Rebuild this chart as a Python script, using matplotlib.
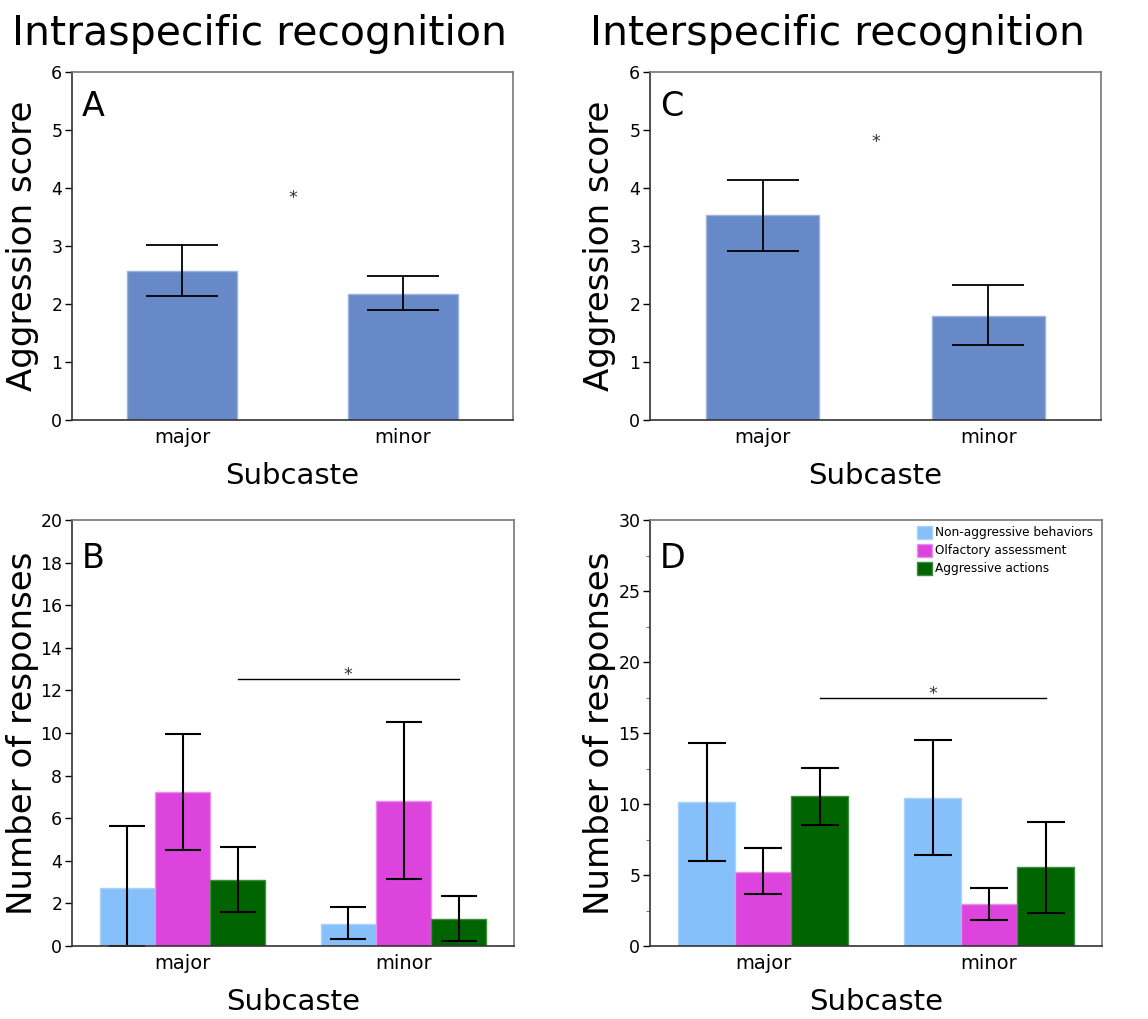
import numpy as np
import matplotlib
matplotlib.use("Agg")
import matplotlib.pyplot as plt
from matplotlib.ticker import MultipleLocator

# ---------------------------------
# data
# ---------------------------------
subcastes = ["major", "minor"]
behaviors = ["Non-aggressive behaviors", "Olfactory assessment", "Aggressive actions"]

# A: intraspecific aggression score
intra_score = [2.57, 2.18]
intra_low = [2.13, 1.89]
intra_high = [3.02, 2.48]

# C: interspecific aggression score
inter_score = [3.53, 1.80]
inter_low = [2.91, 1.29]
inter_high = [4.14, 2.33]

# B: intraspecific responses (rows = behavior, cols = subcaste)
intra_resp = [[2.71, 1.05], [7.21, 6.81], [3.11, 1.25]]
intra_resp_low = [[0.0, 0.31], [4.51, 3.15], [1.61, 0.22]]
intra_resp_high = [[5.62, 1.85], [9.95, 10.5], [4.63, 2.33]]

# D: interspecific responses
inter_resp = [[10.16, 10.40], [5.23, 2.93], [10.54, 5.54]]
inter_resp_low = [[6.01, 6.41], [3.64, 1.81], [8.52, 2.30]]
inter_resp_high = [[14.32, 14.48], [6.88, 4.11], [12.56, 8.76]]

score_color = "#6889C7"
behavior_colors = ["#86C0FA", "#DD44DD", "#006400"]
edge_colors = ["#A9D2FB", "#EC8EEC", "#3E8E3E"]

W, H = 1148, 1019
fig = plt.figure(figsize=(W / 100, H / 100), dpi=100)
plt.rcParams["font.family"] = ["DejaVu Sans"]


def px_axes(left, top, right, bottom):
    return fig.add_axes([left / W, 1 - bottom / H, (right - left) / W, (bottom - top) / H])


def style_axes(ax, ymax, step, label, letter, xlab_y):
    ax.set_xlim(-0.5, 1.5)
    ax.set_ylim(0, ymax)
    ax.yaxis.set_major_locator(MultipleLocator(step))
    ax.set_xticks(range(len(subcastes)))
    ax.set_xticklabels(subcastes, fontsize=14)
    ax.tick_params(axis="x", length=0, pad=6)
    ax.tick_params(axis="y", labelsize=12.5, length=5, width=1, pad=2)
    for side in ["left", "bottom"]:
        ax.spines[side].set_color("#333333")
        ax.spines[side].set_linewidth(1.2)
    for side in ["top", "right"]:
        ax.spines[side].set_color("#777777")
        ax.spines[side].set_linewidth(1.2)
    ax.set_ylabel(label, fontsize=24.5, va="center")
    ax.yaxis.set_label_coords(-0.112, 0.5)
    ax.set_xlabel("Subcaste", fontsize=21, va="top")
    ax.xaxis.set_label_coords(0.5, xlab_y)
    ax.text(0.022, 0.948, letter, transform=ax.transAxes, fontsize=24,
            ha="left", va="top")


def score_panel(ax, vals, low, high):
    x = np.arange(len(subcastes))
    vals = np.array(vals)
    yerr = [vals - np.array(low), np.array(high) - vals]
    ax.bar(x, vals, width=0.5, color=score_color, edgecolor="#9DB3DE", linewidth=1)
    ax.errorbar(x, vals, yerr=yerr, fmt="none", ecolor="black", elinewidth=1.3,
                capsize=26, capthick=1.3)


def resp_panel(ax, vals, low, high, capsize):
    x = np.arange(len(subcastes))
    for i, name in enumerate(behaviors):
        v = np.array(vals[i])
        xi = x + (i - 1) * 0.25
        ax.bar(xi, v, width=0.25, color=behavior_colors[i],
               edgecolor=edge_colors[i], linewidth=1, label=name)
        yerr = [v - np.array(low[i]), np.array(high[i]) - v]
        ax.errorbar(xi, v, yerr=yerr, fmt="none", ecolor="black", elinewidth=1.5,
                    capsize=capsize, capthick=1.5)


# ---------------------------------
# A
# ---------------------------------
axA = px_axes(72, 72, 513, 420)
score_panel(axA, intra_score, intra_low, intra_high)
style_axes(axA, 6, 1, "Aggression score", "A", -0.12)
axA.text(0.5, 3.74, "*", ha="center", va="baseline", fontsize=12.5, color="#333333")

# ---------------------------------
# C
# ---------------------------------
axC = px_axes(650, 72, 1101, 420)
score_panel(axC, inter_score, inter_low, inter_high)
style_axes(axC, 6, 1, "Aggression score", "C", -0.12)
axC.text(0.5, 4.71, "*", ha="center", va="baseline", fontsize=12.5, color="#333333")

# ---------------------------------
# B
# ---------------------------------
axB = px_axes(72, 520, 514, 946)
resp_panel(axB, intra_resp, intra_resp_low, intra_resp_high, 13)
style_axes(axB, 20, 2, "Number of responses", "B", -0.098)
axB.plot([0.25, 1.25], [12.54, 12.54], color="black", lw=1)
axB.text(0.75, 12.5, "*", ha="center", va="baseline", fontsize=12.5, color="#333333")

# ---------------------------------
# D
# ---------------------------------
axD = px_axes(650, 520, 1102, 946)
resp_panel(axD, inter_resp, inter_resp_low, inter_resp_high, 13.5)
style_axes(axD, 30, 5, "Number of responses", "D", -0.098)
axD.yaxis.set_minor_locator(MultipleLocator(2.5))
axD.tick_params(axis="y", which="minor", length=3, width=0.8, color="#777777")
axD.plot([0.25, 1.25], [17.44, 17.44], color="black", lw=1)
axD.text(0.75, 17.4, "*", ha="center", va="baseline", fontsize=12.5, color="#333333")
axD.legend(loc="upper left", bbox_to_anchor=(0.566, 1.012), frameon=False,
           fontsize=8.7, handlelength=1.3, handleheight=1.3, handletextpad=0.2,
           labelspacing=0.36, borderpad=0.4)

# ---------------------------------
# titles
# ---------------------------------
fig.text(12 / W, 1 - 45 / H, "Intraspecific recognition", fontsize=29.5,
         ha="left", va="baseline")
fig.text(590 / W, 1 - 45 / H, "Interspecific recognition", fontsize=29.5,
         ha="left", va="baseline")

fig.savefig("out.png", dpi=100)
